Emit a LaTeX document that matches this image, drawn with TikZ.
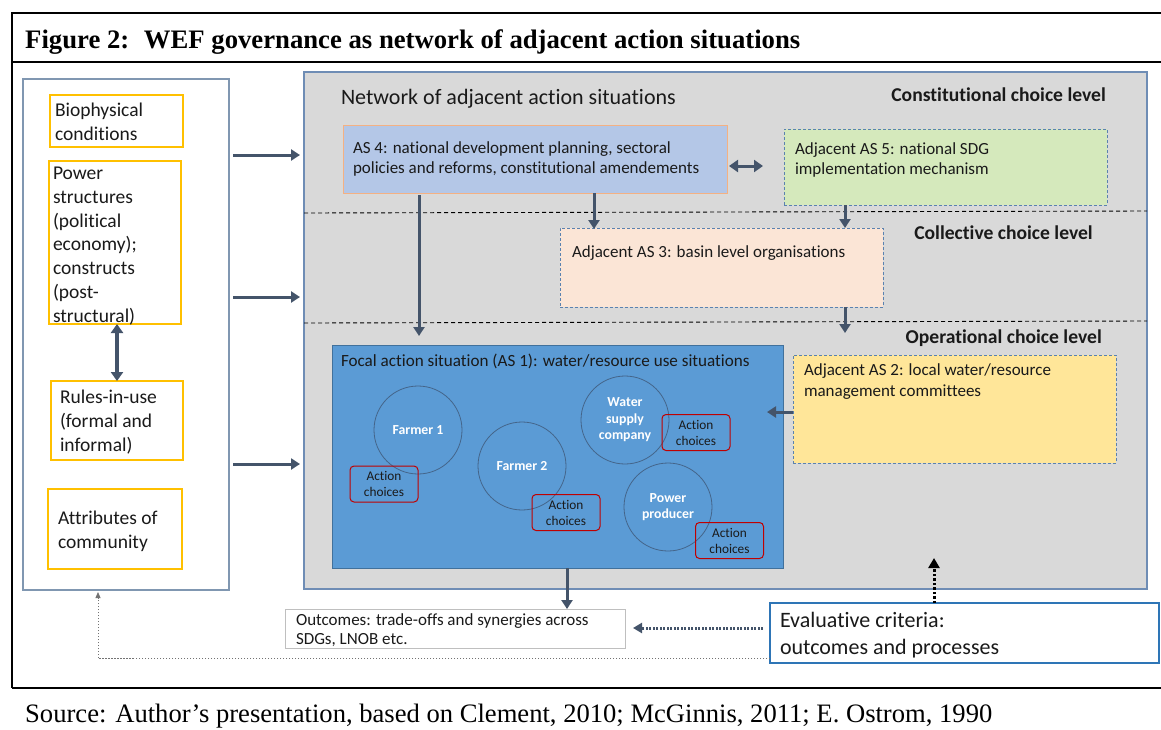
\documentclass[tikz,border=0pt]{standalone}
\usepackage{fontspec}
\setmainfont{Carlito}[Ligatures={NoCommon}]
\newfontfamily\titleserif{Liberation Serif}
\usetikzlibrary{arrows.meta}
\definecolor{arrc}{HTML}{44546A}
\definecolor{grayfill}{HTML}{D9D9D9}
\definecolor{grayedge}{HTML}{6F8DB5}
\definecolor{leftedge}{HTML}{8097B1}
\definecolor{yel}{HTML}{FFC000}
\definecolor{as4fill}{HTML}{B4C7E7}
\definecolor{as4edge}{HTML}{F4B183}
\definecolor{as5fill}{HTML}{D5E9BC}
\definecolor{as3fill}{HTML}{FBE5D6}
\definecolor{as2fill}{HTML}{FFE699}
\definecolor{dashedge}{HTML}{5A82B0}
\definecolor{focalfill}{HTML}{5B9BD5}
\definecolor{focaledge}{HTML}{41719C}
\definecolor{circedge}{HTML}{44658A}
\definecolor{redc}{HTML}{C00000}
\definecolor{evaledge}{HTML}{2E75B6}
\definecolor{outedge}{HTML}{BFBFBF}
\definecolor{txt}{HTML}{1A1A1A}
\newcommand\myfs[2]{\fontsize{#1}{#2}\selectfont}
\begin{document}
\begin{tikzpicture}[x=1pt,y=-1pt,
  box/.style={anchor=north west, inner sep=0pt, outer sep=0pt, rectangle},
  txtnode/.style={anchor=north west, inner sep=0pt, outer sep=0pt, align=left, text=txt},
  yelbox/.style={box, draw=yel, line width=1.3pt},
  dashbox/.style={box, draw=dashedge, line width=0.9pt, dash pattern=on 3pt off 2pt},
  arr/.style={draw=arrc, line width=3pt, -{Triangle[length=9pt,width=11pt]}},
  dblarr/.style={draw=arrc, line width=3.5pt, {Triangle[length=9pt,width=12pt]}-{Triangle[length=9pt,width=12pt]}},
  levelline/.style={draw=black, line width=0.9pt, dash pattern=on 4pt off 3pt},
  actor/.style={circle, draw=circedge, line width=0.8pt, minimum size=88pt, inner sep=0pt, align=center, text=white, font=\myfs{13.8}{16.5}\bfseries},
  choice/.style={rectangle, rounded corners=4pt, draw=redc, line width=1pt, minimum width=68pt, minimum height=36pt, inner sep=0pt, align=center, text=txt, font=\myfs{13.3}{16}},
  levellab/.style={anchor=north east, inner sep=0pt, font=\myfs{19.6}{22}\bfseries, text=txt}
]
\useasboundingbox (0,0) rectangle (1161,729);
\fill[white] (0,0) rectangle (1161,729);

% frame
\draw[line width=2pt] (12,13) -- (1161,13);
\draw[line width=2pt] (12,62) -- (1161,62);
\draw[line width=2pt] (12,688) -- (1161,688);
\draw[line width=2pt] (12,12) -- (12,688);

\node[anchor=base west, inner sep=0pt, font=\titleserif\myfs{26.7}{30}\bfseries] (title) at (25,48) {Figure 2:\hspace{0.55em}WEF governance as network of adjacent action situations};
\node[anchor=base west, inner sep=0pt, font=\titleserif\myfs{26.6}{30}] (source) at (25,722) {Source: Author’s presentation, based on Clement, 2010; McGinnis, 2011; E. Ostrom, 1990};

% left column
\node[box, draw=leftedge, line width=1.2pt, minimum width=206pt, minimum height=511pt] (left) at (23,79) {};
\node[yelbox, minimum width=133pt, minimum height=52pt] (bio) at (50,95) {};
\node[yelbox, minimum width=132pt, minimum height=163pt] (power) at (49,161) {};
\node[yelbox, minimum width=132pt, minimum height=79pt] (rules) at (51,381) {};
\node[yelbox, minimum width=134pt, minimum height=80pt] (attr) at (48,489) {};
\node[txtnode, font=\myfs{19.5}{23.7}] (biot) at (55,103.3) {Biophysical\\conditions};
\node[txtnode, font=\myfs{19.5}{23.7}] (powert) at (53,167.3) {Power\\structures\\(political\\economy);\\constructs\\(post-\\structural)};
\node[txtnode, font=\myfs{19.5}{23.7}] (rulest) at (60,390.3) {Rules-in-use\\(formal and\\informal)};
\node[txtnode, font=\myfs{19.5}{23.7}] (attrt) at (58,511.3) {Attributes of\\community};
\coordinate (pr) at (117,0);
\draw[dblarr] (power.south -| pr) -- (rules.north -| pr);

% gray network box
\node[box, fill=grayfill, draw=grayedge, line width=1.2pt, minimum width=843pt, minimum height=517pt] (gray) at (304,72) {};
\coordinate (ya) at (0,155);
\coordinate (yb) at (0,297);
\coordinate (yc) at (0,464);
\draw[arr] ([xshift=4pt]left.east |- ya) -- ([xshift=-4pt]gray.west |- ya);
\draw[arr] ([xshift=4pt]left.east |- yb) -- ([xshift=-4pt]gray.west |- yb);
\draw[arr] ([xshift=4pt]left.east |- yc) -- ([xshift=-4pt]gray.west |- yc);

\node[txtnode, font=\myfs{22}{26}] (nett) at (341,89.5) {Network of adjacent action situations};
\node[levellab] (constl) at (1106,88) {Constitutional choice level};
\node[levellab] (colll) at (1093,226) {Collective choice level};
\node[levellab] (operl) at (1102,330) {Operational choice level};

\coordinate (l1a) at (304,213);
\coordinate (l1b) at (1147,211);
\coordinate (l2a) at (304,323);
\coordinate (l2b) at (1147,321);
\draw[levelline] (l1a) -- (l1b);
\draw[levelline] (l2a) -- (l2b);

% AS boxes
\node[box, fill=as4fill, draw=as4edge, line width=0.9pt, minimum width=384pt, minimum height=68pt] (as4) at (343,125) {};
\node[txtnode, font=\myfs{17}{20}] (as4t) at (353,141.5) {AS 4: national development planning, sectoral\\policies and reforms, constitutional amendements};
\node[dashbox, fill=as5fill, minimum width=323pt, minimum height=76pt] (as5) at (784,129) {};
\node[txtnode, font=\myfs{17}{20}] (as5t) at (795,142.5) {Adjacent AS 5: national SDG\\implementation mechanism};
\node[dashbox, fill=as3fill, minimum width=323pt, minimum height=79pt] (as3) at (560,228) {};
\node[txtnode, font=\myfs{17}{20}] (as3t) at (572,245.5) {Adjacent AS 3: basin level organisations};
\node[dashbox, fill=as2fill, minimum width=323pt, minimum height=108pt] (as2) at (793,355) {};
\node[txtnode, font=\myfs{17}{21}] (as2t) at (804,363.5) {Adjacent AS 2: local water/resource\\management committees};

% focal
\node[box, fill=focalfill, draw=focaledge, line width=1pt, minimum width=451pt, minimum height=223pt] (focal) at (332,345) {};
\node[txtnode, font=\myfs{17.1}{20}] (focalt) at (341,354) {Focal action situation (AS 1): water/resource use situations};
\node[actor] (f1) at (418,430) {Farmer 1};
\node[actor] (f2) at (522,466) {Farmer 2};
\node[actor] (ws) at (625,420) {Water\\supply\\company};
\node[actor] (pp) at (668,507) {Power\\producer};
\node[choice] (c1) at (384,484) {Action\\choices};
\node[choice] (c2) at (566,512.5) {Action\\choices};
\node[choice] (c3) at (696,432.5) {Action\\choices};
\node[choice] (c4) at (729.5,540.5) {Action\\choices};

% connectors in network
\coordinate (xa) at (419,0);
\coordinate (xb) at (594,0);
\coordinate (xc) at (845,0);
\coordinate (yd) at (0,166);
\coordinate (ye) at (0,412);
\draw[arr] ([yshift=-2pt]as4.south -| xa) -- ([yshift=9pt]focal.north -| xa);
\draw[arr] (as4.south -| xb) -- ([yshift=-1pt]as3.north -| xb);
\draw[dblarr, line width=3pt] ([xshift=2pt]as4.east |- yd) -- ([xshift=-21pt]as5.west |- yd);
\draw[arr] (as5.south -| xc) -- (as3.north -| xc);
\draw[arr] (as3.south -| xc) -- ([yshift=22pt]as2.north -| xc);
\draw[arr] (as2.west |- ye) -- ([xshift=-16pt]focal.east |- ye);

% outcomes and evaluation
\node[box, fill=white, draw=outedge, line width=1pt, minimum width=340pt, minimum height=39pt] (outc) at (285,609) {};
\node[txtnode, font=\myfs{17}{19}] (outct) at (296,613.5) {Outcomes: trade-offs and synergies across\\SDGs, LNOB etc.};
\node[box, fill=white, draw=evaledge, line width=1.5pt, minimum width=389pt, minimum height=60pt] (eval) at (770,603) {};
\node[txtnode, font=\myfs{22}{27}] (evalt) at (780,612.3) {Evaluative criteria:\\outcomes and processes};

\coordinate (xf) at (567,0);
\coordinate (xg) at (934,0);
\coordinate (yf) at (0,628);
\coordinate (yg) at (0,658);
\coordinate (xh) at (98,0);
\draw[arr] (focal.south -| xf) -- (outc.north -| xf);
\draw[draw=black, line width=3pt, dash pattern=on 2.5pt off 2pt, -{Triangle[length=10pt,width=11pt]}] (eval.north -| xg) -- ([yshift=31pt]gray.south -| xg);
\draw[draw=arrc, line width=3pt, dash pattern=on 2pt off 1.5pt, -{Triangle[length=9pt,width=10pt]}] ([xshift=-7pt]eval.west |- yf) -- ([xshift=8pt]outc.east |- yf);
\coordinate (fbc) at (xh |- yg);
\draw[draw=black!55, line width=0.8pt, dash pattern=on 1.5pt off 1.5pt, -{Triangle[length=6pt,width=5pt]}] (eval.west |- yg) -- (fbc) -- ([yshift=-2pt]left.south -| xh);
\end{tikzpicture}
\end{document}
